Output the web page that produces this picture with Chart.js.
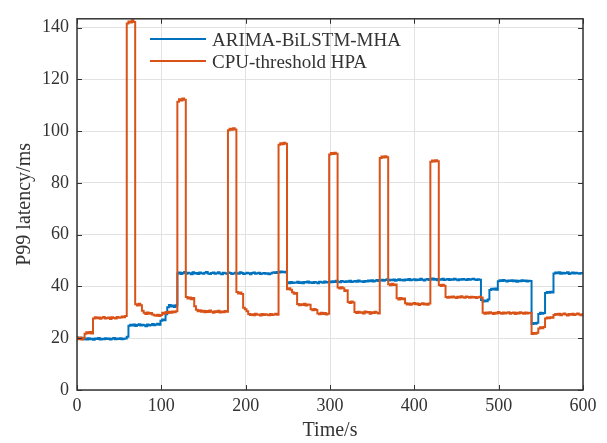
<!DOCTYPE html>
<html>
<head>
<meta charset="utf-8">
<script src="https://cdn.jsdelivr.net/npm/chart.js@4"></script>
<style>
  html, body { margin: 0; padding: 0; background: #fff; }
  #wrap { width: 607px; height: 443px; }
</style>
</head>
<body>
<div id="wrap"><canvas id="latencyChart" width="607" height="443"></canvas></div>
<script>
// Time axis: one sample every 2 s from 0 to 600 s
const timeS = Array.from({ length: 301 }, (_, i) => i * 2);

// ARIMA-BiLSTM-MHA P99 latency (ms), rows of 10 samples = 20 s each
const arimaLatency = [
  20.4, 20.1, 19.7, 20.2, 19.6, 19.9, 19.5, 20.0, 19.6, 19.8,   // 0
  19.4, 19.9, 19.7, 20.1, 19.5, 19.8, 19.6, 20.0, 19.7, 19.9,   // 20
  19.5, 19.8, 20.1, 19.6, 19.9, 19.7, 20.0, 19.6, 19.8, 19.9,   // 40
  20.6, 24.8, 25.2, 24.9, 25.3, 24.7, 25.1, 25.4, 24.9, 25.2,   // 60
  25.0, 24.6, 25.3, 24.9, 25.1, 25.5, 25.0, 25.3, 25.6, 25.2,   // 80
  26.8, 27.2, 26.9, 29.3, 32.0, 32.8, 32.3, 32.6, 32.1, 32.7,   // 100
  45.0, 45.4, 44.8, 45.2, 45.6, 44.9, 45.3, 45.1, 44.7, 45.5,   // 120
  45.0, 45.2, 44.8, 45.4, 45.1, 44.9, 45.3, 45.6, 45.0, 44.8,   // 140
  45.2, 45.4, 44.9, 45.1, 45.5, 45.0, 44.7, 45.3, 45.1, 44.9,   // 160
  45.4, 45.2, 44.8, 45.0, 45.3, 45.1, 44.9, 45.5, 45.2, 44.8,   // 180
  45.0, 45.3, 45.1, 44.7, 45.2, 45.4, 44.9, 45.1, 45.3, 44.8,   // 200
  45.0, 45.2, 44.9, 45.1, 44.7, 45.0, 45.3, 45.5, 45.2, 45.6,   // 220
  45.4, 45.8, 45.5, 45.7, 45.4, 41.6, 41.2, 41.7, 41.3, 41.5,   // 240
  41.4, 41.8, 41.3, 41.6, 41.2, 41.7, 41.5, 41.9, 41.4, 41.6,   // 260
  41.3, 41.7, 41.5, 41.2, 41.8, 41.6, 41.4, 41.9, 41.5, 41.7,   // 280
  41.9, 41.6, 42.0, 41.7, 42.2, 41.8, 41.6, 42.1, 41.9, 41.7,   // 300
  42.0, 41.8, 42.2, 41.7, 41.9, 42.1, 41.8, 42.3, 41.9, 42.0,   // 320
  41.7, 42.1, 41.9, 42.3, 42.0, 42.4, 41.9, 42.2, 42.5, 42.1,   // 340
  42.3, 42.6, 42.2, 42.5, 42.8, 42.3, 42.6, 42.4, 42.7, 42.2,   // 360
  42.5, 42.8, 42.4, 42.6, 42.3, 42.7, 42.5, 42.9, 42.4, 42.6,   // 380
  42.8, 42.4, 42.7, 42.5, 43.0, 42.6, 42.3, 42.7, 42.9, 42.5,   // 400
  42.7, 43.1, 42.6, 42.9, 42.4, 42.8, 42.6, 43.0, 42.5, 42.7,   // 420
  42.9, 42.5, 42.8, 42.6, 43.0, 42.7, 42.4, 42.8, 42.6, 42.9,   // 440
  42.7, 42.5, 42.9, 42.6, 42.8, 43.0, 42.7, 42.5, 42.8, 42.6,   // 460
  34.8, 34.2, 34.6, 34.3, 35.0, 38.6, 39.1, 38.8, 39.2, 38.7,   // 480
  42.0, 42.4, 42.1, 42.5, 42.2, 41.9, 42.3, 42.1, 42.4, 42.0,   // 500
  42.3, 41.8, 42.2, 42.0, 42.4, 42.1, 42.3, 41.9, 42.2, 42.1,   // 520
  25.5, 25.9, 25.6, 26.0, 29.4, 29.8, 29.5, 29.7, 37.5, 37.9,   // 540
  37.6, 38.0, 37.7, 45.0, 45.4, 45.1, 45.5, 44.9, 45.3, 45.0,   // 560
  45.2, 45.5, 44.8, 45.1, 45.4, 45.0, 45.3, 45.1, 44.9, 45.2,   // 580
  45.1                                                          // 600
];

// CPU-threshold HPA P99 latency (ms)
const hpaLatency = [
  20.1, 19.6, 20.3, 19.5, 20.0, 21.7, 22.3, 21.9, 22.4, 21.8,   // 0
  27.6, 28.1, 27.7, 28.0, 27.5, 27.9, 28.2, 27.6, 27.8, 28.0,   // 20
  27.4, 28.1, 27.8, 27.6, 28.2, 27.9, 28.0, 28.4, 28.1, 28.6,   // 40
  141.6, 142.4, 142.0, 142.8, 142.2, 33.1, 32.6, 33.3, 32.7, 30.6, // 60
  29.8, 29.4, 29.9, 29.5, 29.7, 29.2, 28.9, 28.7, 29.1, 28.6,   // 80
  29.0, 29.8, 29.5, 30.1, 29.7, 30.2, 29.8, 30.3, 30.0, 30.4,   // 100
  111.4, 112.3, 111.8, 112.6, 112.1, 35.9, 35.3, 35.7, 35.1, 35.5, // 120
  32.4, 31.0, 30.4, 30.8, 30.2, 30.6, 30.0, 30.5, 30.1, 30.7,   // 140
  30.2, 29.8, 30.4, 30.1, 30.6, 29.9, 30.3, 30.0, 30.5, 30.2,   // 160
  100.3, 100.9, 100.5, 101.1, 100.6, 37.9, 37.3, 37.7, 37.1, 31.8, // 180
  31.2, 30.4, 29.4, 29.0, 29.3, 28.9, 29.5, 29.1, 29.2, 28.8,   // 200
  29.4, 29.0, 29.3, 29.1, 28.9, 29.4, 29.0, 29.2, 29.5, 29.1,   // 220
  94.7, 95.3, 94.9, 95.5, 95.1, 38.9, 39.3, 38.7, 37.8, 37.2,   // 240
  37.5, 33.2, 32.7, 33.1, 32.8, 33.3, 32.6, 33.0, 32.9, 31.2,   // 260
  30.8, 31.3, 30.9, 29.6, 29.3, 29.8, 29.4, 29.7, 29.2, 29.5,   // 280
  91.0, 91.6, 91.2, 91.7, 91.3, 39.6, 39.2, 39.7, 39.3, 38.2,   // 300
  38.5, 34.0, 33.6, 34.2, 33.8, 30.1, 29.7, 30.2, 29.8, 30.0,   // 320
  29.6, 30.3, 29.9, 30.1, 29.5, 30.0, 29.7, 30.2, 29.8, 29.6,   // 340
  89.6, 90.2, 89.8, 90.3, 89.9, 40.9, 40.5, 41.0, 40.6, 40.8,   // 360
  35.4, 35.0, 35.5, 35.1, 35.3, 33.5, 33.0, 33.4, 32.9, 33.3,   // 380
  33.6, 33.1, 33.4, 32.8, 33.2, 33.5, 33.0, 33.3, 32.9, 33.4,   // 400
  88.2, 88.7, 88.3, 88.8, 88.4, 40.6, 40.2, 40.7, 40.3, 35.9,   // 420
  35.6, 36.0, 35.7, 36.1, 35.8, 35.5, 36.0, 35.7, 36.2, 35.8,   // 440
  35.6, 36.1, 35.9, 35.6, 36.0, 35.7, 35.9, 35.5, 35.8, 36.0,   // 460
  35.7, 29.8, 29.5, 29.9, 29.6, 30.0, 29.7, 29.4, 29.8, 29.6,   // 480
  30.1, 29.7, 29.5, 29.9, 29.6, 29.8, 30.0, 29.5, 29.7, 29.9,   // 500
  29.4, 29.8, 29.6, 30.0, 29.7, 29.5, 29.9, 29.6, 29.8, 29.7,   // 520
  21.6, 22.0, 21.7, 22.1, 23.8, 24.2, 23.9, 24.3, 27.6, 28.0,   // 540
  27.7, 28.1, 27.9, 29.0, 29.4, 29.1, 29.5, 28.9, 29.3, 29.6,   // 560
  29.2, 28.8, 29.4, 29.1, 29.5, 29.0, 29.3, 29.6, 29.2, 28.9,   // 580
  29.3                                                          // 600
];

const seriesNames = ['ARIMA-BiLSTM-MHA', 'CPU-threshold HPA'];
const seriesColors = ['#0072BD', '#D95319'];
const xTicks = [0, 100, 200, 300, 400, 500, 600];
const yTicks = [0, 20, 40, 60, 80, 100, 120, 140];

const FONT = "'Liberation Serif', 'Times New Roman', serif";
const INK = '#333333';

function toPoints(values) {
  return values.map((v, i) => ({ x: timeS[i], y: v }));
}

// Box around the plot area, inward ticks on all four sides, and the legend
const frameAndLegend = {
  id: 'frameAndLegend',
  afterDatasetsDraw(chart) {
    const { ctx, chartArea: a, scales: { x, y } } = chart;
    ctx.save();
    ctx.strokeStyle = INK;
    ctx.lineWidth = 1;
    ctx.beginPath();
    xTicks.forEach(v => {
      const px = Math.round(x.getPixelForValue(v)) + 0.5;
      ctx.moveTo(px, a.bottom); ctx.lineTo(px, a.bottom - 5);
      ctx.moveTo(px, a.top); ctx.lineTo(px, a.top + 5);
    });
    yTicks.forEach(v => {
      const py = Math.round(y.getPixelForValue(v)) + 0.5;
      ctx.moveTo(a.left, py); ctx.lineTo(a.left + 5, py);
      ctx.moveTo(a.right, py); ctx.lineTo(a.right - 5, py);
    });
    ctx.stroke();

    ctx.lineWidth = 1.5;
    ctx.strokeRect(a.left, a.top, a.right - a.left, a.bottom - a.top);

    // legend
    ctx.font = '19px ' + FONT;
    ctx.textBaseline = 'alphabetic';
    ctx.textAlign = 'left';
    chart.data.datasets.forEach((ds, i) => {
      const ly = 39 + i * 22;
      ctx.strokeStyle = ds.borderColor;
      ctx.lineWidth = 2;
      ctx.beginPath();
      ctx.moveTo(150, ly); ctx.lineTo(206, ly);
      ctx.stroke();
      ctx.fillStyle = INK;
      ctx.fillText(ds.label, 212, ly + 6.5);
    });
    ctx.restore();
  }
};

const ctx = document.getElementById('latencyChart').getContext('2d');
new Chart(ctx, {
  type: 'line',
  data: {
    datasets: [
      {
        label: seriesNames[0],
        data: toPoints(arimaLatency),
        borderColor: seriesColors[0],
        borderWidth: 2,
        pointRadius: 0,
        stepped: 'middle',
        order: 1
      },
      {
        label: seriesNames[1],
        data: toPoints(hpaLatency),
        borderColor: seriesColors[1],
        borderWidth: 2,
        pointRadius: 0,
        stepped: 'middle',
        order: 0
      }
    ]
  },
  options: {
    responsive: false,
    animation: false,
    layout: { padding: { left: 0, right: 24, top: 10, bottom: 0 } },
    scales: {
      x: {
        type: 'linear',
        min: 0,
        max: 600,
        afterFit: s => { s.height = 53; },
        afterBuildTicks: s => { s.ticks = xTicks.map(v => ({ value: v })); },
        ticks: {
          color: INK,
          font: { family: FONT, size: 18 },
          padding: 5,
          maxRotation: 0
        },
        grid: { color: '#e2e2e2', lineWidth: 1, drawTicks: false },
        border: { display: false },
        title: {
          display: true,
          text: 'Time/s',
          color: INK,
          font: { family: FONT, size: 20, lineHeight: 1.2 },
          padding: { top: 0, bottom: 0 }
        }
      },
      y: {
        min: 0,
        max: 143.4,
        afterFit: s => { s.width = 77; },
        afterBuildTicks: s => { s.ticks = yTicks.map(v => ({ value: v })); },
        ticks: {
          color: INK,
          font: { family: FONT, size: 18 },
          padding: 8
        },
        grid: { color: '#e2e2e2', lineWidth: 1, drawTicks: false },
        border: { display: false },
        title: {
          display: true,
          text: 'P99 latency/ms',
          color: INK,
          font: { family: FONT, size: 20, lineHeight: 1.2 },
          padding: { top: 13, bottom: 0 }
        }
      }
    },
    plugins: {
      legend: { display: false },
      tooltip: { enabled: false }
    }
  },
  plugins: [frameAndLegend]
});
</script>
</body>
</html>
